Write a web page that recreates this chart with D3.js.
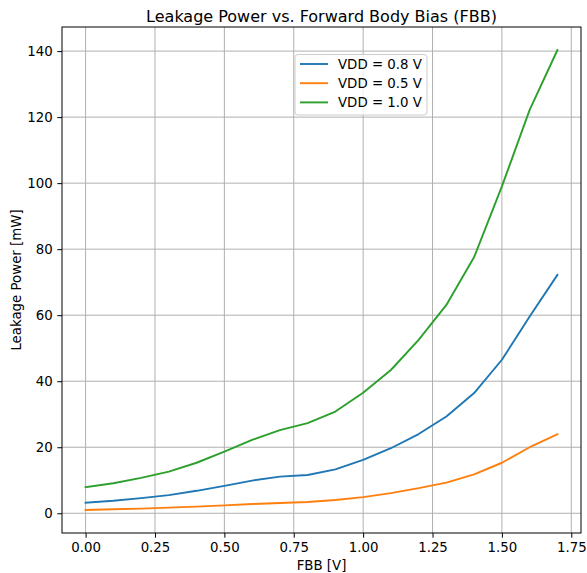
<!DOCTYPE html>
<html><head><meta charset="utf-8">
<script src="https://cdn.jsdelivr.net/npm/d3@7"></script>
<style>body{margin:0;background:#fff}text{font-family:"DejaVu Sans",sans-serif;fill:#000}</style>
</head><body><svg id="c" width="587" height="573"></svg>
<script>
const fbb = [0.0,0.1,0.2,0.3,0.4,0.5,0.6,0.7,0.8,0.9,1.0,1.1,1.2,1.3,1.4,1.5,1.6,1.7];
const vdd08 = [3.2,3.8,4.6,5.5,6.8,8.3,9.9,11.1,11.6,13.3,16.2,19.7,24.0,29.3,36.4,46.5,59.6,72.2];
const vdd05 = [1.0,1.2,1.4,1.7,2.0,2.4,2.8,3.1,3.4,4.0,4.9,6.1,7.6,9.3,11.8,15.3,20.0,23.9];
const vdd10 = [7.9,9.1,10.7,12.6,15.3,18.7,22.2,25.2,27.3,30.8,36.5,43.4,52.5,63.1,77.6,99.0,122.2,140.3];
const seriesNames = ["VDD = 0.8 V","VDD = 0.5 V","VDD = 1.0 V"];
const seriesColors = ["#1f77b4","#ff7f0e","#2ca02c"];
const xTicks = [0,0.25,0.5,0.75,1.0,1.25,1.5,1.75];
const yTicks = [0,20,40,60,80,100,120,140];

const svg = d3.select("#c");
const L=62,R=581,T=27,B=533;
const FS=13.33;
const x = d3.scaleLinear().domain([-0.085,1.785]).range([L,R]);
const y = d3.scaleLinear().domain([-5.98,147.3]).range([B,T]);

const g = svg.append("g");
// grid
g.selectAll(".gx").data(xTicks).enter().append("line")
 .attr("x1",d=>x(d)).attr("x2",d=>x(d)).attr("y1",T).attr("y2",B)
 .attr("stroke","#b0b0b0").attr("stroke-width",1);
g.selectAll(".gy").data(yTicks).enter().append("line")
 .attr("y1",d=>y(d)).attr("y2",d=>y(d)).attr("x1",L).attr("x2",R)
 .attr("stroke","#b0b0b0").attr("stroke-width",1);

// lines
const data = [vdd08,vdd05,vdd10];
const line = d3.line().x((d,i)=>x(fbb[i])).y(d=>y(d));
data.forEach((s,k)=>{
  g.append("path").attr("d",line(s)).attr("fill","none")
   .attr("stroke",seriesColors[k]).attr("stroke-width",1.9).attr("stroke-linejoin","round").attr("stroke-linecap","square");
});

// axes
const xa = svg.append("g").attr("transform",`translate(0,${B})`)
 .call(d3.axisBottom(x).tickValues(xTicks).tickFormat(d3.format(".2f")).tickSize(4.7).tickPadding(4.5));
const ya = svg.append("g").attr("transform",`translate(${L},0)`)
 .call(d3.axisLeft(y).tickValues(yTicks).tickFormat(d3.format("d")).tickSize(4.7).tickPadding(4.5));
[xa,ya].forEach(a=>{a.selectAll("text").attr("font-size",FS).attr("font-family","DejaVu Sans");a.select(".domain").remove();a.selectAll("line").attr("stroke","#000").attr("stroke-width",1);});
svg.append("rect").attr("x",L).attr("y",T).attr("width",R-L).attr("height",B-T)
 .attr("fill","none").attr("stroke","#000").attr("stroke-width",1);

// labels
svg.append("text").attr("x",(L+R)/2).attr("y",22).attr("text-anchor","middle").attr("font-size",16).text("Leakage Power vs. Forward Body Bias (FBB)");
svg.append("text").attr("x",(L+R)/2).attr("y",570).attr("text-anchor","middle").attr("font-size",FS).text("FBB [V]");
svg.append("text").attr("transform",`translate(21,${(T+B)/2}) rotate(-90)`).attr("text-anchor","middle").attr("font-size",FS).text("Leakage Power [mW]");

// legend
const lg = svg.append("g");
lg.append("rect").attr("x",295).attr("y",54.5).attr("width",132).attr("height",60.5).attr("rx",3)
 .attr("fill","#fff").attr("fill-opacity",0.8).attr("stroke","#cccccc").attr("stroke-width",1);
seriesNames.forEach((n,k)=>{
  const yy = 64 + k*19.2;
  lg.append("line").attr("x1",300).attr("x2",328).attr("y1",yy).attr("y2",yy).attr("stroke",seriesColors[k]).attr("stroke-width",1.9);
  lg.append("text").attr("x",338).attr("y",yy+4.8).attr("font-size",FS).text(n);
});
</script></body></html>
